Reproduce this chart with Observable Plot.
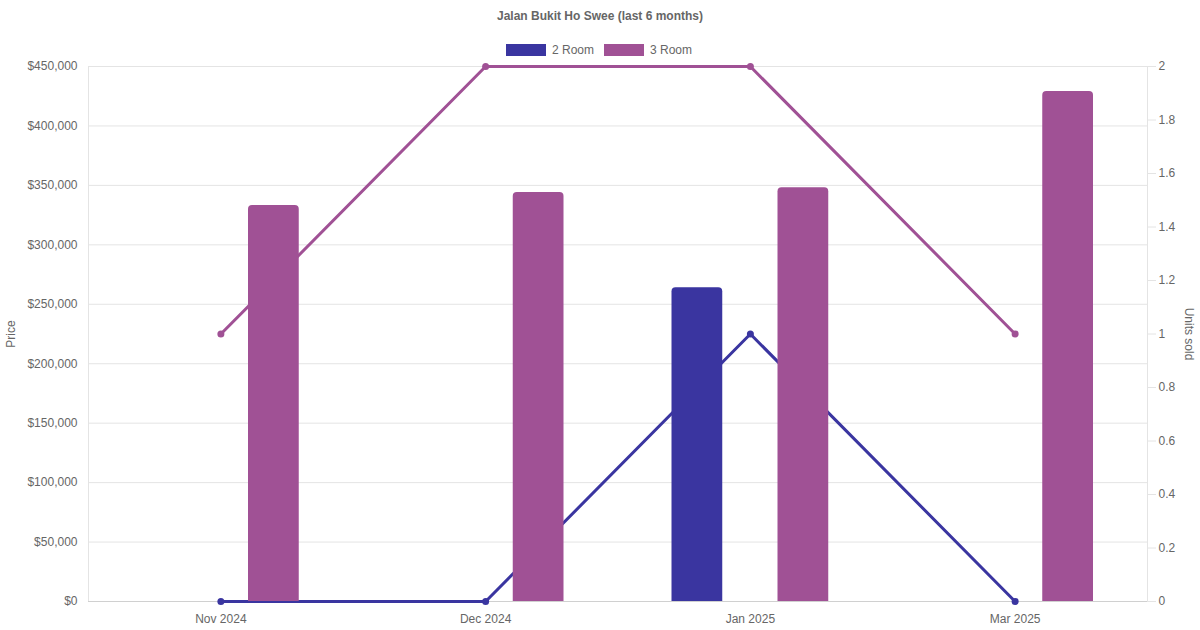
<!DOCTYPE html>
<html>
<head>
<meta charset="utf-8">
<script src="https://cdn.jsdelivr.net/npm/d3@7"></script>
<script src="https://cdn.jsdelivr.net/npm/@observablehq/plot@0.6"></script>
<style>
  html, body { margin: 0; padding: 0; background: #fff; }
  body { width: 1200px; height: 630px; overflow: hidden; font-family: "Liberation Sans", Arial, sans-serif; }
  #wrap { position: relative; width: 1200px; height: 630px; }
  #chart { position: absolute; left: 0; top: 0; }
  .title { position: absolute; left: 0; width: 1200px; top: 9px; text-align: center; font-size: 12px; font-weight: bold; color: #666; }
  .legend { position: absolute; left: -1px; width: 1200px; top: 43px; display: flex; justify-content: center; gap: 10px; font-size: 12px; color: #666; }
  .legend .item { display: flex; align-items: center; gap: 6px; }
  .legend .box { width: 40px; height: 12px; box-sizing: border-box; }
  .ylab { position: absolute; font-size: 12px; color: #666; white-space: nowrap; }
  .ylab.left { left: 11px; top: 334px; transform: translate(-50%, -50%) rotate(-90deg); }
  .ylab.right { left: 1189px; top: 334px; transform: translate(-50%, -50%) rotate(90deg); }
</style>
</head>
<body>
<div id="wrap">
  <div id="chart"></div>
  <div class="title">Jalan Bukit Ho Swee (last 6 months)</div>
  <div class="legend" id="legend"></div>
  <div class="ylab left">Price</div>
  <div class="ylab right">Units sold</div>
</div>
<script>
const months = ["Nov 2024", "Dec 2024", "Jan 2025", "Mar 2025"];
const seriesNames = ["2 Room", "3 Room"];
const seriesColors = ["#3a35a0", "#a05195"];
const room2Price = [null, null, 264000, null];
const room3Price = [333000, 344000, 348000, 429000];
const room2Units = [0, 0, 1, 0];
const room3Units = [1, 2, 2, 1];
const priceTicks = [0, 50000, 100000, 150000, 200000, 250000, 300000, 350000, 400000, 450000];
const unitTicks = [0, 0.2, 0.4, 0.6, 0.8, 1, 1.2, 1.4, 1.6, 1.8, 2];

const priceMax = 450000;
const unitMax = 2;
const unitToPrice = priceMax / unitMax;

const bars2 = months.map((m, i) => ({month: m, price: room2Price[i]})).filter(d => d.price != null);
const bars3 = months.map((m, i) => ({month: m, price: room3Price[i]})).filter(d => d.price != null);
const units2 = months.map((m, i) => ({month: m, units: room2Units[i]}));
const units3 = months.map((m, i) => ({month: m, units: room3Units[i]}));

const fmtPrice = d => "$" + d3.format(",")(d);
const fmtUnits = d => String(+(d / unitToPrice).toFixed(1));

const grid = "#e4e4e4";
const textColor = "#666";

const chart = Plot.plot({
  width: 1200,
  height: 630,
  marginTop: 66,
  marginBottom: 29,
  marginLeft: 88,
  marginRight: 53,
  style: {fontFamily: "'Liberation Sans', Arial, sans-serif", fontSize: "12px", color: textColor, background: "white"},
  x: {type: "band", domain: months, padding: 0, round: false, label: null},
  y: {domain: [0, priceMax], label: null},
  marks: [
    Plot.gridY(priceTicks, {stroke: grid, strokeOpacity: 1}),
    Plot.frame({stroke: grid, strokeOpacity: 1}),
    Plot.ruleY([0], {stroke: "#d0d0d0"}),
    Plot.axisY(priceTicks, {anchor: "left", tickFormat: fmtPrice, tickSize: 0, tickPadding: 11, fill: textColor, label: null}),
    Plot.axisY(unitTicks.map(u => u * unitToPrice), {anchor: "right", tickFormat: fmtUnits, tickSize: 8, tickPadding: 3, stroke: grid, fill: textColor, label: null}),
    Plot.axisX({tickSize: 0, tickPadding: 13, fill: textColor, label: null}),
    Plot.line(units3, {x: "month", y: d => d.units * unitToPrice, stroke: seriesColors[1], strokeWidth: 3}),
    Plot.dot(units3, {x: "month", y: d => d.units * unitToPrice, fill: seriesColors[1], r: 3.5}),
    Plot.line(units2, {x: "month", y: d => d.units * unitToPrice, stroke: seriesColors[0], strokeWidth: 3}),
    Plot.dot(units2, {x: "month", y: d => d.units * unitToPrice, fill: seriesColors[0], r: 3.5}),
    Plot.barY(bars2, {x: "month", y: "price", fill: seriesColors[0], dx: -53, insetLeft: 107, insetRight: 107, ry1: 4}),
    Plot.barY(bars3, {x: "month", y: "price", fill: seriesColors[1], dx: 53, insetLeft: 107, insetRight: 107, ry1: 4})
  ]
});
document.getElementById("chart").appendChild(chart);

const legend = document.getElementById("legend");
seriesNames.forEach((name, i) => {
  const item = document.createElement("div");
  item.className = "item";
  const box = document.createElement("div");
  box.className = "box";
  box.style.background = seriesColors[i];
  const label = document.createElement("span");
  label.textContent = name;
  item.appendChild(box);
  item.appendChild(label);
  legend.appendChild(item);
});
</script>
</body>
</html>
